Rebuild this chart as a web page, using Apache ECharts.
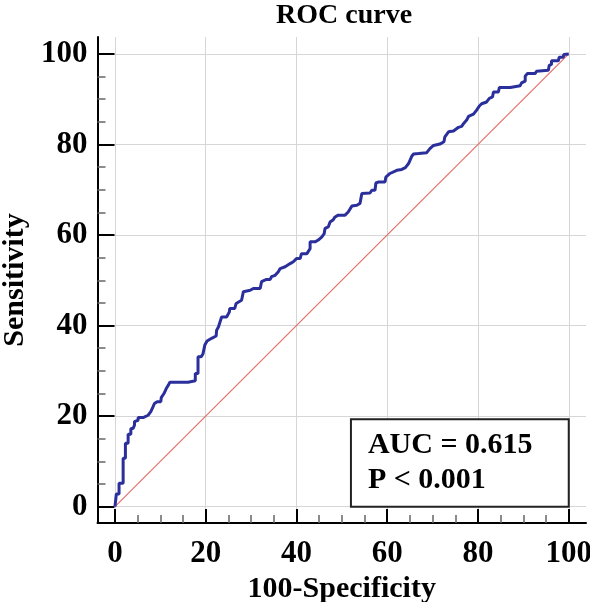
<!DOCTYPE html>
<html>
<head>
<meta charset="utf-8">
<script src="https://cdn.jsdelivr.net/npm/echarts@6/dist/echarts.min.js"></script>
<style>html,body{margin:0;padding:0;background:#fff;}#c{width:590px;height:602px;}</style>
</head>
<body>
<div id="c"></div>
<script>
// ---- data ----
const titleText = 'ROC curve';
const xName = '100-Specificity';
const yName = 'Sensitivity';
const majorTicks = [0, 20, 40, 60, 80, 100];
const minorTicks = [5, 10, 15, 25, 30, 35, 45, 50, 55, 65, 70, 75, 85, 90, 95];
const rocX = [0,0.3,0.9,0.9,1.8,1.8,2.3,2.3,2.9,2.9,3.5,3.5,4.0,4.3,4.3,5.1,5.1,6.2,6.5,7.3,7.9,8.4,8.7,9.3,10.1,10.2,10.8,11.3,11.8,12.1,16.1,16.5,17.7,17.7,18.3,18.3,19.0,19.4,19.8,19.8,20.3,21.3,22.3,22.4,22.8,23.5,24.6,25.2,25.3,26.4,26.7,27.9,28.3,29.8,30.5,32.0,32.3,33.4,34.2,34.5,35.3,36.0,36.4,37.5,38.6,39.3,40.0,40.8,41.1,42.3,43.0,43.0,44.1,44.8,45.2,45.6,46.1,46.3,47.0,47.4,48.1,48.5,49.2,50.7,51.4,52.2,53.3,54.0,54.4,56.2,56.6,57.3,57.5,58.0,59.5,59.7,60.6,61.0,62.1,63.2,64.0,64.7,65.4,65.8,66.9,68.7,69.4,70.2,71.6,72.5,72.7,73.5,74.6,75.7,76.4,76.8,77.5,77.9,79.0,79.7,80.3,80.8,81.9,82.5,83.2,83.4,84.5,84.7,87.1,87.4,89.3,89.6,90.4,90.4,90.9,92.6,92.9,95.5,95.7,96.2,96.2,97.7,97.9,98.8,98.9,100];
const rocY = [0,2.8,2.8,5.2,5.2,10.7,10.7,14.0,14.0,16.0,16.0,17.3,17.3,18.0,18.8,19.1,19.7,19.7,20.0,20.2,21.0,22.1,22.8,23.2,23.2,24.1,25.0,26.1,26.9,27.5,27.5,27.8,27.8,29.4,29.4,33.1,33.1,33.8,33.8,35.7,36.6,37.2,37.7,39.0,39.7,41.9,41.9,43.0,43.8,43.8,44.9,45.6,47.5,47.8,48.2,48.2,49.7,50.2,50.2,50.8,51.1,51.9,52.6,53.0,53.7,54.1,54.8,54.8,55.9,55.9,57.0,58.5,58.5,58.9,58.9,59.6,60.3,61.5,61.8,62.9,63.4,64.0,64.4,64.4,65.1,66.4,66.6,67.0,69.2,69.3,69.9,69.9,71.5,71.7,71.7,72.8,73.6,74.0,74.3,74.5,74.9,75.8,77.4,77.9,78.0,78.2,79.1,79.8,80.1,80.6,81.7,82.8,83.0,83.8,84.0,84.6,85.4,86.2,86.7,87.6,88.5,89.0,89.4,90.2,90.5,91.6,91.6,92.6,92.6,92.9,93.0,93.6,94.0,95.1,95.7,95.7,96.2,96.4,97.5,97.7,98.5,98.5,99.3,99.3,99.9,100];
const refX = [0, 100];
const refY = [0, 100];
const boxX = [52, 100];
const boxY = [0, 19.3];
const statLines = ['AUC = 0.615', 'P < 0.001'];

const FONT = 'Liberation Serif';
const chart = echarts.init(document.getElementById('c'), null, {renderer: 'canvas'});

function axisPair(isX) {
  const range = isX ? {min: -3.85, max: 103.8} : {min: -3.6, max: 103.75};
  const main = Object.assign({
    type: 'value',
    gridIndex: 0,
    position: isX ? 'bottom' : 'left',
    name: isX ? xName : yName,
    nameLocation: 'middle',
    nameGap: isX ? 40 : 67,
    nameTextStyle: {fontFamily: FONT, fontWeight: 'bold', fontSize: 30, color: '#000'},
    axisLine: {show: true, onZero: false, lineStyle: {color: '#000', width: 2}},
    axisTick: {show: true, inside: true, length: isX ? 14 : 17, customValues: majorTicks, lineStyle: {color: '#000', width: 2}},
    axisLabel: {show: true, customValues: majorTicks, margin: isX ? 15 : 10, fontFamily: FONT, fontWeight: 'bold', fontSize: 31, color: '#000'},
    splitLine: {show: true, lineStyle: {color: '#d6d6d6', width: 1}},
    minorTick: {show: false}
  }, range);
  const minor = Object.assign({
    type: 'value',
    gridIndex: 0,
    position: isX ? 'bottom' : 'left',
    axisLine: {show: false, onZero: false},
    axisTick: {show: true, inside: true, length: 8, customValues: minorTicks, lineStyle: {color: '#666', width: 1.5}},
    axisLabel: {show: false},
    splitLine: {show: false}
  }, range);
  return [main, minor];
}

const rocData = rocX.map((x, i) => [x, rocY[i]]);
const refData = refX.map((x, i) => [x, refY[i]]);

chart.setOption({
  animation: false,
  backgroundColor: '#fff',
  title: {
    text: titleText,
    left: 271,
    top: -3,
    textStyle: {fontFamily: FONT, fontWeight: 'bold', fontSize: 28, color: '#000'}
  },
  grid: {left: 97.5, right: 4, top: 37, bottom: 79, containLabel: false, outerBoundsMode: 'none'},
  xAxis: axisPair(true),
  yAxis: axisPair(false),
  series: [
    {
      type: 'line',
      data: refData,
      xAxisIndex: 0, yAxisIndex: 0,
      showSymbol: false,
      smooth: false,
      itemStyle: {color: '#e36a64'},
      lineStyle: {color: '#e36a64', width: 1.1},
      emphasis: {disabled: true},
      z: 2,
      markArea: {
        silent: true,
        itemStyle: {color: '#fff', borderColor: '#222', borderWidth: 2},
        label: {
          show: true,
          position: 'insideLeft',
          distance: 18,
          formatter: statLines.join('\n'),
          fontFamily: FONT, fontWeight: 'bold', fontSize: 30, lineHeight: 35, color: '#000'
        },
        data: [[{coord: [boxX[0], boxY[0]]}, {coord: [boxX[1], boxY[1]]}]]
      }
    },
    {
      type: 'line',
      data: rocData,
      xAxisIndex: 0, yAxisIndex: 0,
      showSymbol: false,
      smooth: false,
      itemStyle: {color: '#2b2f9c'},
      lineStyle: {color: '#2b2f9c', width: 3},
      emphasis: {disabled: true},
      z: 3
    }
  ]
});
</script>
</body>
</html>
